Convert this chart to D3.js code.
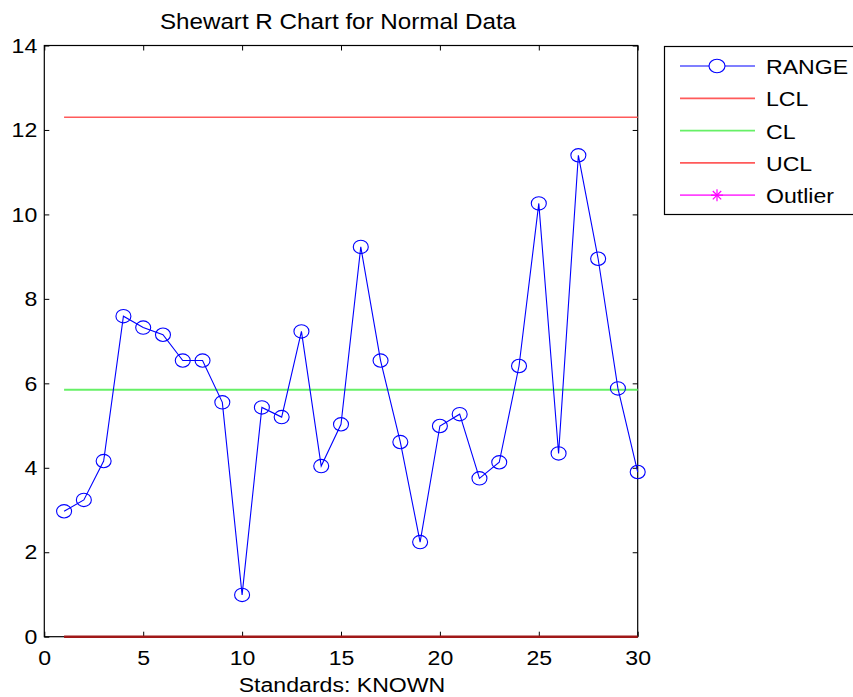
<!DOCTYPE html>
<html>
<head>
<meta charset="utf-8">
<script src="https://cdn.jsdelivr.net/npm/d3@7"></script>
<style>
  body { margin: 0; background: #fff; }
  svg { display: block; font-family: "Liberation Sans", Arial, sans-serif; }
</style>
</head>
<body>
<svg id="chart" width="853" height="697"></svg>
<script>
// data
const samples = d3.range(1, 31);
const rangeValues = [2.97, 3.24, 4.16, 7.59, 7.32, 7.15, 6.54, 6.54, 5.55, 0.99,
                     5.43, 5.20, 7.23, 4.04, 5.03, 9.23, 6.54, 4.61, 2.24, 4.99,
                     5.27, 3.75, 4.13, 6.41, 10.26, 4.34, 11.40, 8.95, 5.88, 3.90];
const lclValue = 0;
const clValue = 5.85;
const uclValue = 12.3;
const xTicks = [0, 5, 10, 15, 20, 25, 30];
const yTicks = [0, 2, 4, 6, 8, 10, 12, 14];
const legendLabels = ["RANGE", "LCL", "CL", "UCL", "Outlier"];

const svg = d3.select('#chart');
const stretch = 1.1; // reference text is a bit wider than it is tall

const x = d3.scaleLinear().domain([0, 30]).range([44.3, 637.7]);
const y = d3.scaleLinear().domain([0, 14]).range([636.7, 45.5]);

function label(px, py, txt, size, anchor) {
    svg.append('g')
        .attr('transform', 'translate(' + px + ',' + py + ')')
        .append('text')
            .attr('transform', 'scale(' + stretch + ',1)')
            .attr('text-anchor', anchor || 'middle')
            .style('font-size', size + 'px')
            .style('fill', '#000')
            .text(txt);
}

// axes, ticks pointing inwards on all four sides
const xAxisB = d3.axisBottom(x).tickValues(xTicks).tickSize(-5).tickPadding(13);
const xAxisT = d3.axisTop(x).tickValues(xTicks).tickSize(-5).tickFormat('');
const yAxisL = d3.axisLeft(y).tickValues(yTicks).tickSize(-5).tickPadding(7);
const yAxisR = d3.axisRight(y).tickValues(yTicks).tickSize(-5).tickFormat('');

function styleAxis(g) {
    g.select('.domain').remove();
    g.selectAll('line').attr('stroke', '#000');
    g.selectAll('text')
        .style('font-size', '21px')
        .style('font-family', '"Liberation Sans", Arial, sans-serif')
        .attr('fill', '#000');
}

svg.append('g').attr('transform', 'translate(0,' + y(0) + ')').call(xAxisB).call(styleAxis)
    .selectAll('text').attr('transform', 'scale(' + stretch + ',1)').attr('x', 0);
svg.append('g').attr('transform', 'translate(0,' + y(14) + ')').call(xAxisT).call(styleAxis);
svg.append('g').attr('transform', 'translate(' + x(0) + ',0)').call(yAxisL).call(styleAxis)
    .selectAll('text').attr('x', -7 / stretch).attr('transform', 'scale(' + stretch + ',1)');
svg.append('g').attr('transform', 'translate(' + x(30) + ',0)').call(yAxisR).call(styleAxis);

// box
svg.append('rect')
    .attr('x', x(0)).attr('y', y(14))
    .attr('width', x(30) - x(0)).attr('height', y(0) - y(14))
    .attr('fill', 'none').attr('stroke', '#000').attr('stroke-width', 1.2);

// control limits
const hline = (v, color, w) => svg.append('line')
    .attr('x1', x(1)).attr('x2', x(30))
    .attr('y1', y(v)).attr('y2', y(v))
    .attr('stroke', color).attr('stroke-width', w);
hline(uclValue, '#ff5a5a', 1.6);
hline(clValue, '#66f066', 2);
hline(lclValue, '#a01818', 2.5);

// range series
const line = d3.line().x((d, i) => x(samples[i])).y(d => y(d));
svg.append('path')
    .datum(rangeValues)
    .attr('d', line)
    .attr('fill', 'none').attr('stroke', '#0000ff').attr('stroke-width', 1.1);

svg.selectAll('ellipse.pt')
    .data(rangeValues)
    .enter().append('ellipse')
        .attr('class', 'pt')
        .attr('cx', (d, i) => x(samples[i]))
        .attr('cy', d => y(d))
        .attr('rx', 7.5).attr('ry', 6.7)
        .attr('fill', 'none').attr('stroke', '#0000ff').attr('stroke-width', 1.1);

// title and x label
label(338, 29, 'Shewart R Chart for Normal Data', 22);
label(342, 692, 'Standards: KNOWN', 21);

// legend
const lg = svg.append('g');
lg.append('rect')
    .attr('x', 664.5).attr('y', 46.5).attr('width', 200).attr('height', 168)
    .attr('fill', '#fff').attr('stroke', '#000').attr('stroke-width', 1.2);

const legendColors = ['#0000ff', '#ff5a5a', '#66f066', '#ff5a5a', '#ff44ff'];
legendLabels.forEach((name, i) => {
    let ly = 66 + i * 32.3;
    lg.append('line')
        .attr('x1', 680).attr('x2', 755).attr('y1', ly).attr('y2', ly)
        .attr('stroke', legendColors[i]).attr('stroke-width', i == 0 ? 1.1 : 1.8);
    if (i == 0) {
        lg.append('ellipse')
            .attr('cx', 717).attr('cy', ly).attr('rx', 8).attr('ry', 6.7)
            .attr('fill', '#fff').attr('stroke', '#0000ff').attr('stroke-width', 1.1);
    }
    if (i == 4) {
        let s = 6;
        [[-s, 0, s, 0], [0, -s, 0, s], [-s * 0.7, -s * 0.7, s * 0.7, s * 0.7], [-s * 0.7, s * 0.7, s * 0.7, -s * 0.7]]
            .forEach(a => lg.append('line')
                .attr('x1', 717 + a[0]).attr('y1', ly + a[1])
                .attr('x2', 717 + a[2]).attr('y2', ly + a[3])
                .attr('stroke', '#ff00ff').attr('stroke-width', 1.2));
    }
    label(766, ly + 8, name, 21, 'start');
});
</script>
</body>
</html>
